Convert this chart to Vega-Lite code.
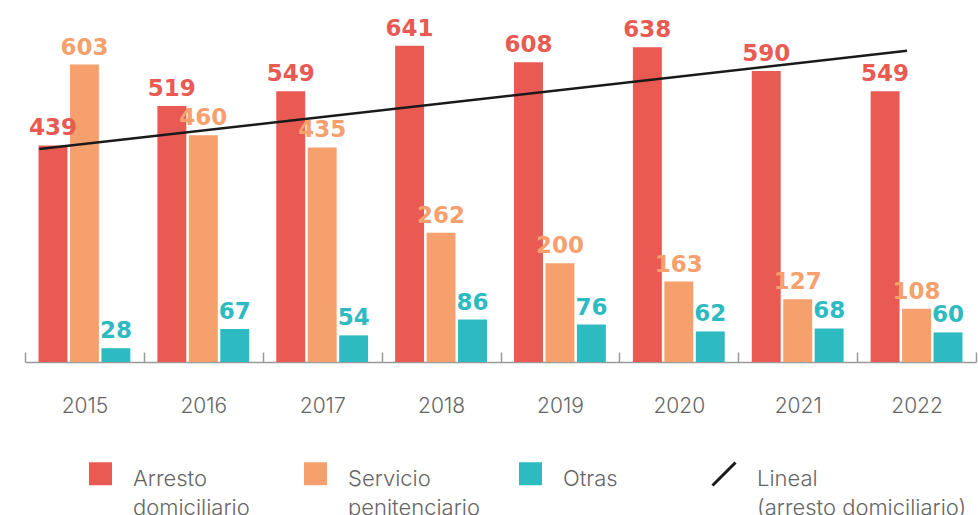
{
  "$schema": "https://vega.github.io/schema/vega-lite/v6.json",
  "width": 951,
  "height": 362,
  "autosize": "none",
  "padding": {"left": 25, "top": 0, "right": 2, "bottom": 153},
  "config": {"view": {"stroke": null}, "font": "Inter"},
  "datasets": {
    "bars": [
      {"year": "2015", "serie": "Arresto domiciliario", "v": 439},
      {"year": "2015", "serie": "Servicio penitenciario", "v": 603},
      {"year": "2015", "serie": "Otras", "v": 28},
      {"year": "2016", "serie": "Arresto domiciliario", "v": 519},
      {"year": "2016", "serie": "Servicio penitenciario", "v": 460},
      {"year": "2016", "serie": "Otras", "v": 67},
      {"year": "2017", "serie": "Arresto domiciliario", "v": 549},
      {"year": "2017", "serie": "Servicio penitenciario", "v": 435},
      {"year": "2017", "serie": "Otras", "v": 54},
      {"year": "2018", "serie": "Arresto domiciliario", "v": 641},
      {"year": "2018", "serie": "Servicio penitenciario", "v": 262},
      {"year": "2018", "serie": "Otras", "v": 86},
      {"year": "2019", "serie": "Arresto domiciliario", "v": 608},
      {"year": "2019", "serie": "Servicio penitenciario", "v": 200},
      {"year": "2019", "serie": "Otras", "v": 76},
      {"year": "2020", "serie": "Arresto domiciliario", "v": 638},
      {"year": "2020", "serie": "Servicio penitenciario", "v": 163},
      {"year": "2020", "serie": "Otras", "v": 62},
      {"year": "2021", "serie": "Arresto domiciliario", "v": 590},
      {"year": "2021", "serie": "Servicio penitenciario", "v": 127},
      {"year": "2021", "serie": "Otras", "v": 68},
      {"year": "2022", "serie": "Arresto domiciliario", "v": 549},
      {"year": "2022", "serie": "Servicio penitenciario", "v": 108},
      {"year": "2022", "serie": "Otras", "v": 60}
    ],
    "trend": [
      {"pos": 2014.62, "v": 432, "serie": "Lineal (arresto domiciliario)"},
      {"pos": 2021.92, "v": 631, "serie": "Lineal (arresto domiciliario)"}
    ]
  },
  "layer": [
    {
      "data": {"name": "bars"},
      "encoding": {
        "x": {
          "field": "year",
          "type": "ordinal",
          "scale": {"paddingInner": 0, "paddingOuter": 0},
          "axis": {
            "title": null,
            "labelAngle": 0,
            "tickBand": "extent",
            "tickSize": -10,
            "tickColor": "#9a9a9a",
            "tickWidth": 1.5,
            "domainColor": "#9a9a9a",
            "domainWidth": 1.5,
            "labelFontSize": 21,
            "labelFontWeight": 300,
            "labelColor": "#666666",
            "labelPadding": 43
          }
        },
        "xOffset": {
          "field": "serie",
          "sort": ["Arresto domiciliario", "Servicio penitenciario", "Otras"],
          "scale": {"paddingInner": 0.08, "paddingOuter": 0.43}
        },
        "y": {
          "field": "v",
          "type": "quantitative",
          "scale": {"domain": [0, 734], "nice": false},
          "axis": null
        },
        "color": {
          "field": "serie",
          "type": "nominal",
          "scale": {
            "domain": ["Arresto domiciliario", "Servicio penitenciario", "Otras"],
            "range": ["#E95A52", "#F5A06D", "#2EBAC1"]
          },
          "legend": {
            "title": null,
            "orient": "none",
            "legendX": 63,
            "legendY": 461,
            "direction": "horizontal",
            "columns": 3,
            "gridAlign": "all",
            "columnPadding": 38,
            "symbolSize": 529,
            "symbolType": "square",
            "symbolOpacity": 1,
            "labelFontSize": 22,
            "labelFontWeight": 300,
            "labelColor": "#666666",
            "labelOffset": 20,
            "labelLimit": 400,
            "labelExpr": "datum.label == 'Otras' ? ['Otras', ' '] : split(datum.label, ' ')",
            "encode": {
              "labels": {
                "update": {
                  "baseline": {"value": "alphabetic"},
                  "dy": {"value": 12},
                  "lineHeight": {"value": 29}
                }
              }
            }
          }
        }
      },
      "layer": [
        {"mark": {"type": "bar", "opacity": 1}},
        {
          "mark": {"type": "text", "baseline": "alphabetic", "dy": -10, "fontSize": 23, "fontWeight": "bold", "font": "DejaVu Sans"},
          "encoding": {"text": {"field": "v", "type": "quantitative"}}
        }
      ]
    },
    {
      "data": {"name": "trend"},
      "mark": {"type": "line", "strokeWidth": 2.5},
      "encoding": {
        "x": {
          "field": "pos",
          "type": "quantitative",
          "scale": {"domain": [2014.5, 2022.5], "nice": false, "zero": false},
          "axis": null
        },
        "y": {"field": "v", "type": "quantitative"},
        "stroke": {
          "field": "serie",
          "type": "nominal",
          "scale": {"domain": ["Lineal (arresto domiciliario)"], "range": ["#1a1a1a"]},
          "legend": {
            "title": null,
            "orient": "none",
            "legendX": 686,
            "legendY": 461,
            "symbolType": "M-1,1L1,-1",
            "symbolSize": 529,
            "symbolStrokeWidth": 3,
            "labelFontSize": 22,
            "labelFontWeight": 300,
            "labelColor": "#666666",
            "labelOffset": 20,
            "labelLimit": 400,
            "labelExpr": "['Lineal', '(arresto domiciliario)']",
            "encode": {
              "labels": {
                "update": {
                  "baseline": {"value": "alphabetic"},
                  "dy": {"value": 12},
                  "lineHeight": {"value": 29}
                }
              }
            }
          }
        }
      }
    }
  ],
  "resolve": {"scale": {"x": "independent"}}
}
